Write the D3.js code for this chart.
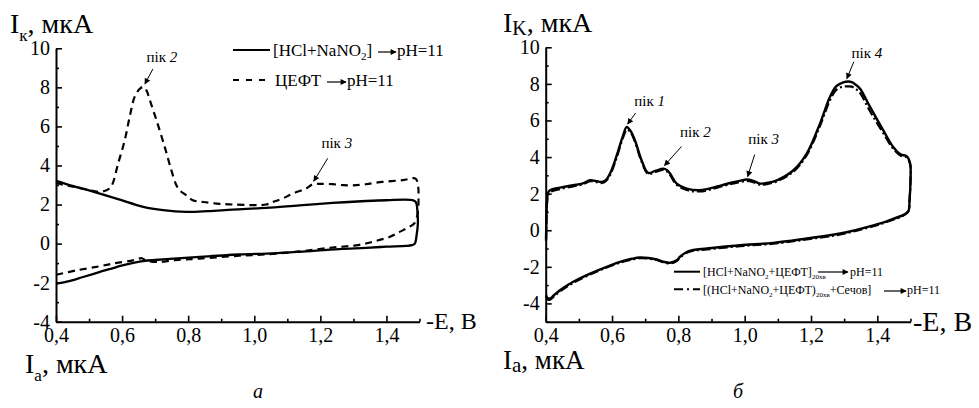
<!DOCTYPE html>
<html><head><meta charset="utf-8">
<script src="https://cdn.jsdelivr.net/npm/d3@7"></script>
<style>body{margin:0;background:#fff}svg{display:block}</style>
</head><body><svg id="c" width="979" height="408"></svg>
<script>
// ---------- data ----------
const xMajor = [0.4,0.6,0.8,1.0,1.2,1.4];
const xMinor = [0.5,0.7,0.9,1.1,1.3,1.5];
const xTickLabels = ["0,4","0,6","0,8","1,0","1,2","1,4"];
const yMajorA = [-4,-2,0,2,4,6,8,10];
const yMinorA = [-3,-1,1,3,5,7,9];
const yMajorB = [-4,-2,0,2,4,6,8,10];
const yMinorB = [-5,-3,-1,1,3,5,7,9];
const yTickLabels = ["-4","-2","0","2","4","6","8","10"];

// chart a: [HCl+NaNO2] -> pH=11 (solid)
const aSolid = [[0.400,3.21],[0.45,2.95],[0.5,2.72],[0.533,2.56],[0.593,2.25],[0.664,1.88],[0.724,1.71],[0.794,1.62],[0.86,1.66],[0.935,1.74],[1.036,1.83],[1.137,1.96],[1.237,2.08],[1.338,2.18],[1.40,2.22],[1.479,2.22],[1.489,2.12],[1.494,1.6],[1.495,1.0],[1.491,0.4],[1.486,0.0],[1.477,-0.08],[1.46,-0.12],[1.40,-0.16],[1.338,-0.22],[1.257,-0.28],[1.137,-0.42],[1.056,-0.5],[0.955,-0.56],[0.835,-0.68],[0.734,-0.8],[0.653,-0.92],[0.583,-1.2],[0.533,-1.45],[0.482,-1.71],[0.44,-1.92],[0.402,-2.05]];
// chart a: ЦЕФТ -> pH=11 (dashed)
const aDash = [[0.4,3.1],[0.44,2.95],[0.482,2.81],[0.53,2.65],[0.555,2.75],[0.568,2.95],[0.588,4.1],[0.608,5.29],[0.623,6.49],[0.638,7.51],[0.655,7.95],[0.666,8.02],[0.675,7.8],[0.684,7.34],[0.704,6.32],[0.729,4.95],[0.749,3.76],[0.764,3.0],[0.774,2.73],[0.795,2.47],[0.814,2.22],[0.845,2.13],[0.886,2.05],[0.935,2.0],[1.036,2.0],[1.055,2.13],[1.085,2.3],[1.116,2.56],[1.157,2.82],[1.177,3.04],[1.2,3.06],[1.237,3.04],[1.27,2.99],[1.3,2.98],[1.338,3.04],[1.388,3.16],[1.45,3.25],[1.488,3.33],[1.496,2.9],[1.497,2.4],[1.495,1.6],[1.485,1.05],[1.469,0.85],[1.44,0.6],[1.409,0.34],[1.36,0.1],[1.308,-0.09],[1.237,-0.2],[1.137,-0.4],[1.036,-0.55],[0.955,-0.62],[0.835,-0.77],[0.76,-0.85],[0.704,-0.94],[0.672,-0.86],[0.66,-0.75],[0.633,-0.86],[0.58,-1.0],[0.533,-1.16],[0.462,-1.37],[0.4,-1.6]];

// chart b: [HCl+NaNO2+ЦЕФТ]20хв -> pH=11 (solid)
const bSolid = [[0.401,-0.5],[0.402,0.5],[0.404,1.6],[0.407,2.05],[0.413,2.19],[0.443,2.33],[0.483,2.46],[0.51,2.55],[0.534,2.73],[0.55,2.7],[0.569,2.64],[0.582,2.75],[0.594,3.1],[0.607,3.7],[0.619,4.37],[0.632,5.1],[0.644,5.64],[0.655,5.45],[0.669,4.92],[0.689,3.83],[0.709,3.13],[0.73,3.24],[0.755,3.37],[0.765,3.3],[0.775,3.1],[0.795,2.55],[0.825,2.28],[0.865,2.19],[0.905,2.33],[0.956,2.58],[0.985,2.7],[1.006,2.77],[1.026,2.7],[1.046,2.55],[1.066,2.58],[1.097,2.73],[1.147,3.28],[1.187,4.19],[1.227,5.83],[1.257,7.28],[1.275,7.85],[1.288,8.01],[1.305,8.12],[1.323,8.1],[1.335,7.95],[1.348,7.74],[1.378,6.74],[1.418,5.46],[1.448,4.55],[1.47,4.15],[1.489,4.04],[1.499,3.64],[1.5,2.73],[1.497,1.6],[1.494,1.05],[1.483,0.88],[1.43,0.5],[1.388,0.27],[1.288,-0.18],[1.187,-0.45],[1.086,-0.69],[0.986,-0.82],[0.886,-1.0],[0.845,-1.08],[0.825,-1.19],[0.805,-1.45],[0.795,-1.64],[0.775,-1.78],[0.755,-1.72],[0.735,-1.6],[0.71,-1.52],[0.684,-1.49],[0.66,-1.56],[0.634,-1.68],[0.584,-2.0],[0.534,-2.37],[0.483,-2.82],[0.443,-3.28],[0.425,-3.55],[0.413,-3.73],[0.405,-3.7],[0.401,-3.55]];
// chart b: [(HCl+NaNO2+ЦЕФТ)20хв+Сечов] -> pH=11 (dash-dot)
const bDashDot = [[0.401,-0.6],[0.402,0.4],[0.404,1.5],[0.408,1.95],[0.415,2.1],[0.443,2.25],[0.483,2.4],[0.51,2.5],[0.534,2.68],[0.55,2.64],[0.569,2.58],[0.582,2.7],[0.594,3.0],[0.607,3.6],[0.619,4.25],[0.632,5.0],[0.645,5.5],[0.656,5.35],[0.669,4.85],[0.689,3.75],[0.709,3.08],[0.73,3.18],[0.755,3.3],[0.765,3.22],[0.775,3.02],[0.795,2.48],[0.825,2.2],[0.865,2.12],[0.905,2.27],[0.956,2.52],[0.985,2.63],[1.006,2.7],[1.026,2.63],[1.046,2.48],[1.066,2.52],[1.097,2.67],[1.147,3.2],[1.187,4.1],[1.227,5.7],[1.257,7.1],[1.275,7.65],[1.29,7.82],[1.305,7.86],[1.323,7.85],[1.335,7.72],[1.348,7.5],[1.378,6.5],[1.418,5.3],[1.448,4.45],[1.47,4.08],[1.489,3.98],[1.499,3.6],[1.5,2.7],[1.497,1.6],[1.494,1.05],[1.483,0.85],[1.43,0.46],[1.388,0.22],[1.288,-0.23],[1.187,-0.5],[1.086,-0.74],[0.986,-0.87],[0.886,-1.05],[0.845,-1.12],[0.825,-1.23],[0.805,-1.5],[0.795,-1.68],[0.775,-1.82],[0.755,-1.75],[0.735,-1.63],[0.71,-1.55],[0.684,-1.53],[0.66,-1.6],[0.634,-1.72],[0.584,-2.04],[0.534,-2.42],[0.483,-2.88],[0.443,-3.35],[0.425,-3.62],[0.413,-3.8],[0.405,-3.78],[0.401,-3.62]];

// peak annotations: [label number, peak x, peak y]
const aPeaks = [["2",0.666,8.02],["3",1.177,3.04]];
const bPeaks = [["1",0.644,5.64],["2",0.755,3.37],["3",1.006,2.77],["4",1.305,8.12]];

// ---------- drawing ----------
const FONT = '"Liberation Serif"';
const svg = d3.select("#c");
const defs = svg.append("defs");
defs.append("marker").attr("id","ah").attr("viewBox","0 0 10 10").attr("refX",9).attr("refY",5)
  .attr("markerWidth",7).attr("markerHeight",6).attr("markerUnits","userSpaceOnUse").attr("orient","auto")
  .append("path").attr("d","M0,0L10,5L0,10Z").attr("fill","#000");

function panel(x0,x1,yTop,yBot,yDom,yMaj,yMin){
  const x = d3.scaleLinear([0.4,1.5],[x0,x1]);
  const y = d3.scaleLinear(yDom,[yBot,yTop]);
  const g = svg.append("g");
  g.append("g").attr("transform",`translate(0,${yBot})`)
    .call(d3.axisBottom(x).tickValues(xMinor).tickSize(-3).tickFormat(""))
    .call(s=>s.select(".domain").remove());
  g.append("g").attr("transform",`translate(${x0},0)`)
    .call(d3.axisLeft(y).tickValues(yMin).tickSize(-3).tickFormat(""))
    .call(s=>s.select(".domain").remove());
  g.append("g").attr("transform",`translate(0,${yBot})`)
    .call(d3.axisBottom(x).tickValues(xMajor).tickSize(-6).tickSizeOuter(0).tickPadding(6).tickFormat((d,i)=>xTickLabels[i]));
  g.append("g").attr("transform",`translate(${x0},0)`)
    .call(d3.axisLeft(y).tickValues(yMaj).tickSize(-6).tickSizeOuter(0).tickPadding(6).tickFormat((d,i)=>yTickLabels[i]));
  g.selectAll("g").attr("font-family",FONT);
  g.selectAll(".domain").attr("stroke-width",2);
  g.selectAll(".tick line").attr("stroke-width",1.6);
  g.selectAll(".tick text").attr("font-family",FONT).attr("font-size",20).attr("fill","#000");
  return {x,y,g};
}

const A = panel(56,419.5,48.3,321.7,[-4,10],yMajorA,yMinorA);
const B = panel(545.7,910.5,47.3,321.7,[-5,10],yMajorB,yMinorB);

const lineA = d3.line().x(d=>A.x(d[0])).y(d=>A.y(d[1])).curve(d3.curveCatmullRom.alpha(0.5));
const lineB = d3.line().x(d=>B.x(d[0])).y(d=>B.y(d[1])).curve(d3.curveCatmullRom.alpha(0.5));

A.g.append("path").attr("d",lineA(aSolid)).attr("fill","none").attr("stroke","#000").attr("stroke-width",2.3);
A.g.append("path").attr("d",lineA(aDash)).attr("fill","none").attr("stroke","#000").attr("stroke-width",2.2).attr("stroke-dasharray","7,5");
B.g.append("path").attr("d",lineB(bDashDot)).attr("fill","none").attr("stroke","#000").attr("stroke-width",2.2).attr("stroke-dasharray","9,3,2,3");
B.g.append("path").attr("d",lineB(bSolid)).attr("fill","none").attr("stroke","#000").attr("stroke-width",2.4);

// peak labels & arrows (offsets from peak in px: label centre x, baseline y, arrow start)
const aOff = {"2":[18,-25,9,-18],"3":[24,-36,15,-26]};
const bOff = {"1":[23,-21,9,-14],"2":[32,-32,18,-22],"3":[17,-36,8,-25],"4":[21,-24,8,-20]};
function txt(x,y,size){ return svg.append("text").attr("x",x).attr("y",y).attr("font-size",size).attr("font-family",FONT).attr("fill","#000"); }
function peaks(P,list,off){
  list.forEach(([n,px,py])=>{
    const X=P.x(px), Y=P.y(py), o=off[n];
    const t=txt(X+o[0],Y+o[1],15).attr("text-anchor","middle");
    t.append("tspan").text("пік ");
    t.append("tspan").attr("font-style","italic").text(n);
    svg.append("line").attr("x1",X+o[2]).attr("y1",Y+o[3]).attr("x2",X+1).attr("y2",Y-3)
      .attr("stroke","#000").attr("stroke-width",1).attr("marker-end","url(#ah)");
  });
}
peaks(A,aPeaks,aOff);
peaks(B,bPeaks,bOff);

// axis titles
let t;
t = txt(10,33,28);
t.append("tspan").text("I"); t.append("tspan").attr("font-size",17).attr("dy",8).text("к"); t.append("tspan").attr("dy",-8).text(", мкА");
t = txt(25,373,28);
t.append("tspan").text("I"); t.append("tspan").attr("font-size",17).attr("dy",8).text("а"); t.append("tspan").attr("dy",-8).text(", мкА");
txt(426,329,24).text("-E, B");

t = txt(503,32,28);
t.append("tspan").text("I"); t.append("tspan").attr("font-size",20).attr("dy",3).text("K"); t.append("tspan").attr("dy",-3).text(", мкА");
t = txt(503,369,27);
t.append("tspan").text("I"); t.append("tspan").attr("font-size",21).attr("dy",3).text("a"); t.append("tspan").attr("dy",-3).text(", мкА");
txt(913,331,28).text("-E, B");

txt(258,398,20).attr("font-style","italic").attr("text-anchor","middle").text("а");
txt(738,398,20).attr("font-style","italic").attr("text-anchor","middle").text("б");

// legend a
function arrow(x1,x2,y){ svg.append("line").attr("x1",x1).attr("x2",x2).attr("y1",y).attr("y2",y).attr("stroke","#000").attr("stroke-width",1.2).attr("marker-end","url(#ah)"); }
svg.append("line").attr("x1",233).attr("x2",270).attr("y1",50).attr("y2",50).attr("stroke","#000").attr("stroke-width",2);
t = txt(273,56,17);
t.append("tspan").text("[HCl+NaNO"); t.append("tspan").attr("font-size",11).attr("dy",4).text("2"); t.append("tspan").attr("dy",-4).text("]");
arrow(378,396,52);
txt(397,56,17).text("pH=11");
svg.append("line").attr("x1",233).attr("x2",270).attr("y1",80).attr("y2",80).attr("stroke","#000").attr("stroke-width",2).attr("stroke-dasharray","6,7");
txt(275,86,17).text("ЦЕФТ");
arrow(327,346,82);
txt(347,86,17).text("pH=11");

// legend b
svg.append("line").attr("x1",674).attr("x2",700).attr("y1",271.7).attr("y2",271.7).attr("stroke","#000").attr("stroke-width",2);
t = txt(703,276,12);
t.append("tspan").text("[HCl+NaNO"); t.append("tspan").attr("font-size",7).attr("dy",3).text("2");
t.append("tspan").attr("dy",-3).text("+ЦЕФТ]"); t.append("tspan").attr("font-size",7).attr("dy",3).text("20хв");
arrow(818,848,272);
txt(850,276,12).text("pH=11");
svg.append("line").attr("x1",674).attr("x2",700).attr("y1",289.3).attr("y2",289.3).attr("stroke","#000").attr("stroke-width",2).attr("stroke-dasharray","9,4,2,4");
t = txt(703,294,12);
t.append("tspan").text("[(HCl+NaNO"); t.append("tspan").attr("font-size",7).attr("dy",3).text("2");
t.append("tspan").attr("dy",-3).text("+ЦЕФТ)"); t.append("tspan").attr("font-size",7).attr("dy",3).text("20хв");
t.append("tspan").attr("dy",-3).text("+Сечов]");
arrow(884,906,291);
txt(907,294,12).text("pH=11");
</script></body></html>
